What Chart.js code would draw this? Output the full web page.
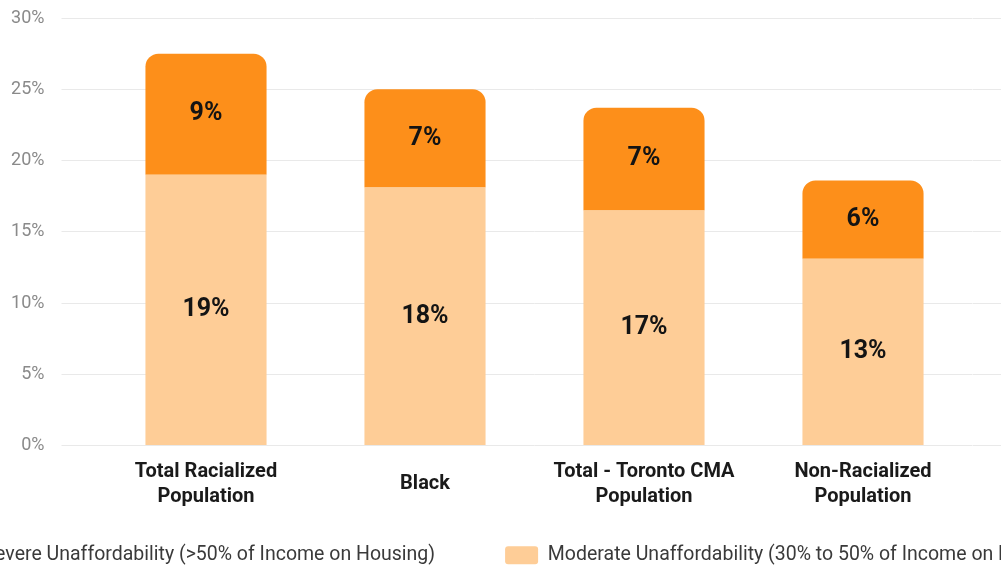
<!DOCTYPE html>
<html>
<head>
<meta charset="utf-8">
<script src="https://cdn.jsdelivr.net/npm/chart.js@4"></script>
<style>
    html, body { margin: 0; padding: 0; background: #fff; }
    #frame { position: relative; width: 1001px; height: 570px; overflow: hidden; }
    #wrap { position: absolute; left: -198px; top: 0; width: 1414px; height: 615px; }
</style>
</head>
<body>
<div id="frame"><div id="wrap"><canvas id="unaffordChart"></canvas></div></div>
<script>
// ============================================
// DATA
// ============================================
const categories = [
    ['Total Racialized', 'Population'],
    'Black',
    ['Total - Toronto CMA', 'Population'],
    ['Non-Racialized', 'Population']
];
const moderateValues = [19.0, 18.1, 16.5, 13.1];
const severeValues = [8.5, 6.9, 7.2, 5.5];
const moderateLabels = ['19%', '18%', '17%', '13%'];
const severeLabels = ['9%', '7%', '7%', '6%'];
const yTicks = [0, 5, 10, 15, 20, 25, 30];

const FONT = 'Roboto, "Open Sans", sans-serif';
const GRID = '#e9e9e9';

// ============================================
// VALUE LABELS INSIDE BAR SEGMENTS
// ============================================
const segmentLabels = {
    id: 'segmentLabels',
    afterDatasetsDraw(chart) {
        const ctx = chart.ctx;
        ctx.save();
        ctx.font = 'bold 25px ' + FONT;
        ctx.fillStyle = '#141414';
        ctx.textAlign = 'center';
        ctx.textBaseline = 'middle';
        chart.data.datasets.forEach((ds, di) => {
            const meta = chart.getDatasetMeta(di);
            meta.data.forEach((bar, i) => {
                const y = (bar.y + bar.base) / 2;
                ctx.fillText(ds.valueLabels[i], bar.x, y);
            });
        });
        ctx.restore();
    }
};

// legend keeps its wide item spacing, but sits closer to the axis labels
const liftLegend = {
    id: 'liftLegend',
    afterLayout(chart) {
        const lg = chart.legend;
        if (!lg) return;
        lg.top -= 40;
        lg.bottom -= 40;
    }
};

function fitVertical(width) {
    return function(scale) {
        scale.width = width;
        scale.paddingTop = 0;
        scale.paddingBottom = 0;
    };
}

const ctx = document.getElementById('unaffordChart').getContext('2d');
new Chart(ctx, {
    type: 'bar',
    data: {
        labels: categories,
        datasets: [
            {
                label: 'Moderate Unaffordability (30% to 50% of Income on Housing)',
                data: moderateValues,
                valueLabels: moderateLabels,
                backgroundColor: '#fecd97',
                borderWidth: 0,
                borderRadius: 0,
                barPercentage: 0.553,
                categoryPercentage: 1
            },
            {
                label: 'Severe Unaffordability (>50% of Income on Housing)',
                data: severeValues,
                valueLabels: severeLabels,
                backgroundColor: '#fd8f1a',
                borderWidth: 0,
                borderSkipped: false,
                borderRadius: { topLeft: 13, topRight: 13, bottomLeft: 0, bottomRight: 0 },
                barPercentage: 0.553,
                categoryPercentage: 1
            }
        ]
    },
    options: {
        responsive: true,
        maintainAspectRatio: false,
        animation: false,
        layout: { padding: { top: 18, left: 0, right: 0, bottom: 0 } },
        scales: {
            x: {
                stacked: true,
                grid: { display: false, drawTicks: false },
                border: { display: false },
                ticks: {
                    color: '#1a1a1a',
                    font: { family: FONT, size: 20, weight: 'bold', lineHeight: 1.25 },
                    padding: 26,
                    crossAlign: 'center',
                    maxRotation: 0,
                    autoSkip: false
                },
                afterFit(scale) { scale.height = 70; }
            },
            y: {
                stacked: true,
                min: 0,
                max: 30,
                afterBuildTicks(scale) { scale.ticks = yTicks.map(v => ({ value: v })); },
                grid: { color: GRID, lineWidth: 1, tickLength: 35, tickColor: GRID },
                border: { display: false },
                ticks: {
                    color: '#8a8a8a',
                    font: { family: FONT, size: 18 },
                    padding: 17,
                    callback: v => v + '%'
                },
                afterFit: fitVertical(294.5)
            },
            y2: {
                position: 'right',
                min: 0,
                max: 30,
                afterBuildTicks(scale) { scale.ticks = yTicks.map(v => ({ value: v })); },
                grid: { drawOnChartArea: false, color: GRID, tickLength: 243, tickColor: GRID },
                border: { display: false },
                ticks: { display: false },
                afterFit: fitVertical(243.5)
            }
        },
        plugins: {
            legend: {
                position: 'bottom',
                reverse: true,
                labels: {
                    color: '#3a3a3a',
                    font: { family: FONT, size: 19.5 },
                    boxWidth: 33,
                    boxHeight: 18,
                    padding: 70,
                    useBorderRadius: true,
                    borderRadius: 3
                }
            },
            tooltip: { enabled: false }
        }
    },
    plugins: [segmentLabels, liftLegend]
});
</script>
</body>
</html>
